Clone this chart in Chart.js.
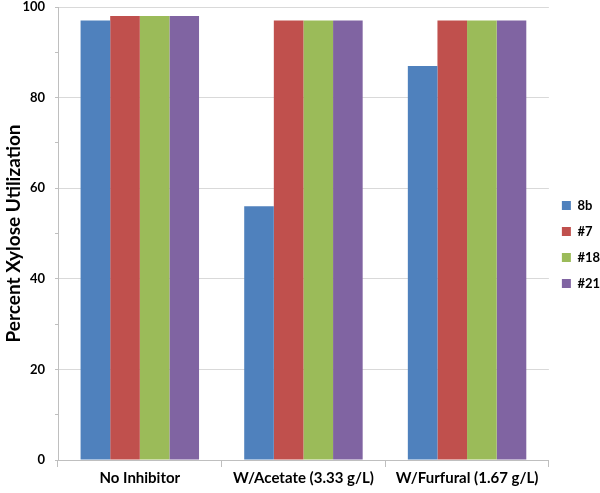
<!DOCTYPE html>
<html>
<head>
<meta charset="utf-8">
<script src="https://cdn.jsdelivr.net/npm/chart.js@4"></script>
<style>
  body { margin: 0; background: #fff; }
  #wrap { width: 600px; height: 493px; }
</style>
</head>
<body>
<div id="wrap"><canvas id="chart"></canvas></div>
<script>
// Dados do gráfico
const categories = ['No Inhibitor', 'W/Acetate (3.33 g/L)', 'W/Furfural (1.67 g/L)'];
const seriesNames = ['8b', '#7', '#18', '#21'];
const s8b = [97, 56, 87];
const s7 = [98, 97, 97];
const s18 = [98, 97, 97];
const s21 = [98, 97, 97];
const colors = ['#4F81BD', '#C0504D', '#9BBB59', '#8064A2'];

const font = 'Lato, "Open Sans", sans-serif';

new Chart(document.getElementById('chart'), {
    type: 'bar',
    data: {
        labels: categories,
        datasets: [s8b, s7, s18, s21].map((d, i) => ({
            label: seriesNames[i],
            data: d,
            backgroundColor: colors[i],
            barPercentage: 1,
            categoryPercentage: 0.724
        }))
    },
    options: {
        responsive: true,
        maintainAspectRatio: false,
        animation: false,
        layout: { padding: { top: 0, right: -10, left: 0, bottom: 4 } },
        plugins: {
            legend: {
                position: 'right',
                labels: {
                    boxWidth: 9,
                    boxHeight: 9,
                    padding: 13,
                    color: '#000',
                    font: { family: font, size: 13, weight: 'bold' }
                }
            },
            tooltip: { enabled: false }
        },
        scales: {
            x: {
                grid: {
                    drawOnChartArea: false,
                    offset: true,
                    tickLength: 7,
                    color: '#bfbfbf'
                },
                border: { color: '#bfbfbf' },
                ticks: {
                    color: '#000',
                    padding: 2,
                    maxRotation: 0,
                    minRotation: 0,
                    autoSkip: false,
                    font: { family: font, size: 15, weight: 'bold' }
                }
            },
            y: {
                min: 0,
                max: 100,
                afterFit: s => {
                    s.width = 58;
                    s.paddingTop = 7;
                },
                ticks: {
                    stepSize: 10,
                    autoSkip: false,
                    color: '#000',
                    padding: 10,
                    font: { family: font, size: 13, weight: 'bold' },
                    callback: v => (v % 20 === 0 ? v : '')
                },
                grid: {
                    tickLength: 3,
                    color: ctx => (ctx.tick && ctx.tick.value % 20 === 0 ? '#d9d9d9' : 'rgba(0,0,0,0)'),
                    tickColor: '#bfbfbf'
                },
                border: { color: '#bfbfbf' },
                title: {
                    display: true,
                    text: 'Percent Xylose Utilization',
                    color: '#000',
                    padding: { top: 2, bottom: 0 },
                    font: { family: font, size: 19, weight: 'bold' }
                }
            }
        }
    }
});
</script>
</body>
</html>
